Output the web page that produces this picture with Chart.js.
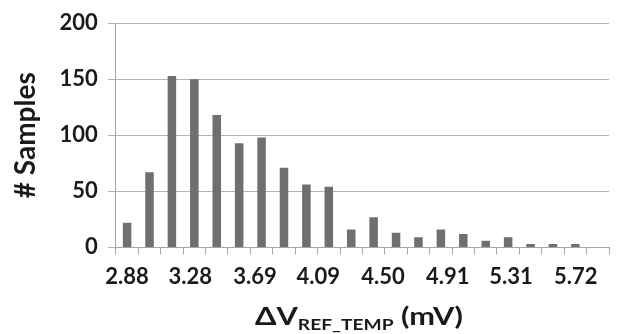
<!DOCTYPE html>
<html>
<head>
<meta charset="utf-8">
<script src="https://cdn.jsdelivr.net/npm/chart.js@4.4.0/dist/chart.umd.min.js"></script>
<style>
  html, body { margin: 0; padding: 0; background: #fff; }
  #wrap { position: relative; width: 627px; height: 334px; overflow: hidden; }
  #c { position: absolute; left: 0; top: 0; }
  #xtitle { position: absolute; top: 304px; white-space: nowrap; font-family: Lato, "Open Sans", sans-serif; font-weight: bold; font-size: 24px; color: #1a1a1a; line-height: 1; transform-origin: 0 0; }
  #xtitle sub { font-size: 15px; vertical-align: -5px; line-height: 1; }
</style>
</head>
<body>
<div id="wrap">
  <canvas id="c" width="627" height="334"></canvas>
  <div id="xtitle">ΔV<sub>REF_TEMP</sub> (mV)</div>
</div>
<script>
// Bin centers (mV), one per bar
const categories = [2.88, 3.02, 3.16, 3.31, 3.45, 3.59, 3.73, 3.87, 4.02, 4.16, 4.30,
                    4.44, 4.58, 4.73, 4.87, 5.01, 5.15, 5.29, 5.43, 5.58, 5.72, 5.86];
// Number of samples per bin
const samples = [22, 67, 153, 150, 118, 93, 98, 71, 56, 54, 16,
                 27, 13, 9, 16, 12, 6, 9, 3, 3, 3, 0];
// X-axis tick labels (mV)
const xTickLabels = [2.88, 3.28, 3.69, 4.09, 4.50, 4.91, 5.31, 5.72];
// Y-axis ticks
const yTicks = [0, 50, 100, 150, 200];

const FONT = 'Lato, "Open Sans", sans-serif';
const step = (categories[categories.length - 1] - categories[0]) / (categories.length - 1);
const xMin = categories[0] - step / 2;
const xMax = categories[categories.length - 1] + step / 2;

const chart = new Chart(document.getElementById('c'), {
  type: 'bar',
  data: {
    labels: categories.map(v => v.toFixed(2)),
    datasets: [{
      data: samples,
      xAxisID: 'x',
      backgroundColor: '#6f6f6f',
      borderWidth: 0,
      barPercentage: 0.38,
      categoryPercentage: 1.0
    }]
  },
  options: {
    responsive: false,
    animation: false,
    devicePixelRatio: 1,
    layout: { padding: { left: 9, right: 18, top: 10, bottom: 44 } },
    plugins: { legend: { display: false }, tooltip: { enabled: false } },
    scales: {
      x: {
        type: 'category',
        position: 'bottom',
        offset: true,
        grid: { display: true, offset: true, drawOnChartArea: false, drawTicks: true, tickLength: 7, color: '#a6a6a6', lineWidth: 1 },
        border: { display: true, color: '#a6a6a6', width: 1 },
        ticks: { display: true, autoSkip: false, maxRotation: 0, padding: 0, font: { size: 1 }, callback: () => '' }
      },
      x2: {
        type: 'linear',
        position: 'bottom',
        offset: false,
        min: xMin,
        max: xMax,
        afterBuildTicks: axis => { axis.ticks = xTickLabels.map(v => ({ value: v })); },
        grid: { display: false },
        border: { display: false },
        ticks: {
          autoSkip: false, maxRotation: 0, padding: 0,
          color: '#1a1a1a',
          font: { family: FONT, size: 22, weight: 'bold' },
          callback: v => Number(v).toFixed(2)
        }
      },
      y: {
        min: 0, max: 200,
        afterBuildTicks: axis => { axis.ticks = yTicks.map(v => ({ value: v })); },
        grid: { color: '#b4b4b4', lineWidth: 1, tickLength: 8, drawTicks: true },
        border: { display: true, color: '#a6a6a6', width: 1 },
        ticks: { color: '#1a1a1a', padding: 10, font: { family: FONT, size: 22, weight: 'bold' } },
        title: { display: true, text: '# Samples', color: '#1a1a1a', padding: { top: 0, bottom: 7 }, font: { family: FONT, size: 28, weight: 'bold' } }
      }
    }
  }
});

// Position the x-axis title (with subscript) centred under the plot area
const ca = chart.chartArea;
const xt = document.getElementById('xtitle');
const w = xt.getBoundingClientRect().width;
const targetW = 208;
const sx = targetW / w;
const cx = (ca.left + ca.right) / 2 - 3;
xt.style.left = (cx - targetW / 2) + 'px';
xt.style.transform = 'scaleX(' + sx.toFixed(3) + ')';
</script>
</body>
</html>
